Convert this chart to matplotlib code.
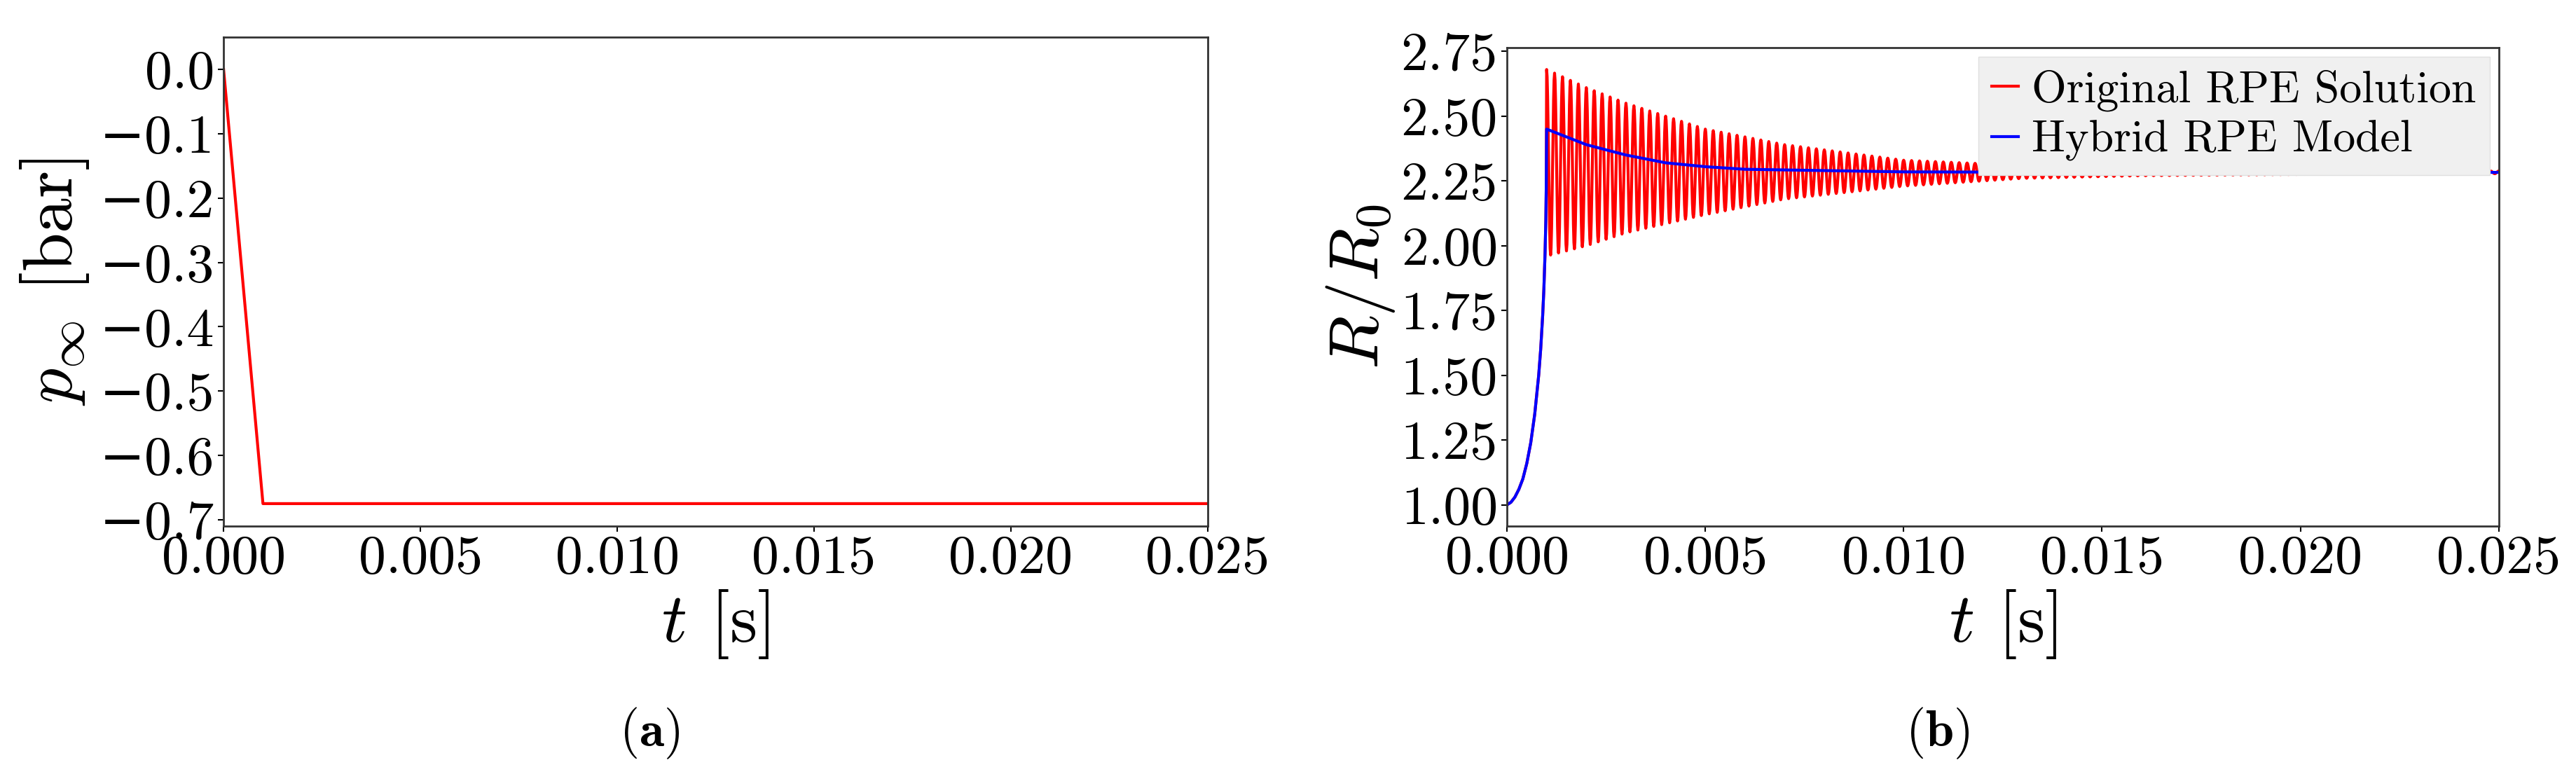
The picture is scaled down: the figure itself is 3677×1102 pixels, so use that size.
import numpy as np
import matplotlib
matplotlib.use("Agg")
import matplotlib.pyplot as plt

plt.rcParams['font.family'] = ['cmr10', 'DejaVu Serif']
plt.rcParams['mathtext.fontset'] = 'cm'
plt.rcParams['axes.formatter.use_mathtext'] = True

# panel (a): far-field pressure
t_p = [0.0, 0.001, 0.025]
p_inf = [0.0, -0.675, -0.675]

# panel (b): growth phase (both models)
t_rise = [0.0, 0.0001, 0.0002, 0.0003, 0.0004, 0.0005, 0.0006, 0.0007, 0.0008,
          0.00085, 0.0009, 0.00093, 0.00096, 0.00098, 0.00099, 0.001]
r_rise = [1.0, 1.01, 1.03, 1.06, 1.1, 1.16, 1.24, 1.35, 1.5,
          1.6, 1.73, 1.83, 1.97, 2.1, 2.22, 2.45]
# hybrid model decay after the step
t_hyb = [0.001, 0.0015, 0.002, 0.003, 0.004, 0.005, 0.006, 0.008, 0.010, 0.015, 0.025]
r_hyb = [2.45, 2.42, 2.39, 2.35, 2.32, 2.305, 2.295, 2.29, 2.285, 2.283, 2.283]
# original RPE: oscillation envelope
t_env = [0.001, 0.002, 0.003, 0.005, 0.007, 0.010, 0.013, 0.016, 0.020, 0.025]
r_peak = [2.68, 2.61, 2.55, 2.45, 2.39, 2.33, 2.31, 2.30, 2.29, 2.288]
r_trough = [1.96, 2.00, 2.05, 2.12, 2.18, 2.23, 2.26, 2.27, 2.275, 2.278]
period = 0.0002

fig = plt.figure(figsize=(36.77, 11.02), dpi=100)
ax1 = fig.add_axes([0.0868, 0.3185, 0.382, 0.633])
ax2 = fig.add_axes([0.585, 0.3185, 0.385, 0.620])

ax1.plot(t_p, p_inf, color='red', lw=3)
ax1.set_xlim(0, 0.025)
ax1.set_ylim(-0.71, 0.05)
ax1.set_xticks([0, 0.005, 0.010, 0.015, 0.020, 0.025])
ax1.set_xticklabels(['0.000', '0.005', '0.010', '0.015', '0.020', '0.025'])
ax1.set_yticks([0, -0.1, -0.2, -0.3, -0.4, -0.5, -0.6, -0.7])
ax1.set_yticklabels(['0.0', '−0.1', '−0.2', '−0.3', '−0.4', '−0.5', '−0.6', '−0.7'])
ax1.set_xlabel(r'$t$ [s]', fontsize=72)
ax1.set_ylabel(r'$p_\infty$ [bar]', fontsize=72, labelpad=4)
ax1.yaxis.set_label_coords(-0.135, 0.5)

# oscillating curve: alternating peaks/troughs joined by half-cosine arcs
t_ext = np.arange(0.001, 0.025 + 1e-9, period / 2)
hi = np.interp(t_ext, t_env, r_peak)
lo = np.interp(t_ext, t_env, r_trough)
r_ext = np.where(np.arange(len(t_ext)) % 2 == 0, hi, lo)
s = np.linspace(0, 1, 8, endpoint=False)
w = (1 - np.cos(np.pi * s)) / 2
t_fine = (t_ext[:-1, None] + s[None, :] * period / 2).ravel()
r_fine = (r_ext[:-1, None] * (1 - w) + r_ext[1:, None] * w).ravel()
t_orig = np.concatenate([t_rise[:-1], t_fine])
r_orig = np.concatenate([r_rise[:-1], r_fine])

ax2.plot(t_orig, r_orig, color='red', lw=3, label='Original RPE Solution')
ax2.plot(t_rise + t_hyb[1:], r_rise + r_hyb[1:], color='blue', lw=3, label='Hybrid RPE Model')
ax2.set_xlim(0, 0.025)
ax2.set_ylim(0.918, 2.765)
ax2.set_xticks([0, 0.005, 0.010, 0.015, 0.020, 0.025])
ax2.set_xticklabels(['0.000', '0.005', '0.010', '0.015', '0.020', '0.025'])
ax2.set_yticks([1.0, 1.25, 1.5, 1.75, 2.0, 2.25, 2.5, 2.75])
ax2.set_yticklabels(['1.00', '1.25', '1.50', '1.75', '2.00', '2.25', '2.50', '2.75'])
ax2.set_xlabel(r'$t$ [s]', fontsize=72)
ax2.set_ylabel(r'$R/R_0$', fontsize=72)
leg = ax2.legend(loc='upper right', fontsize=46, handlelength=0.6, handletextpad=0.3,
                 fancybox=False, framealpha=1, borderpad=0.3, labelspacing=0.2,
                 borderaxespad=0.2)
leg.get_frame().set_facecolor('#f0f0f0')
leg.get_frame().set_edgecolor('#e0e0e0')

for ax in (ax1, ax2):
    ax.tick_params(labelsize=56, length=6, width=1.5)
    for sp in ax.spines.values():
        sp.set_color('#333333')
        sp.set_linewidth(2)

fig.text(0.252, 0.05, r'($\mathbf{a}$)', fontsize=52, ha='center', va='center')
fig.text(0.752, 0.05, r'($\mathbf{b}$)', fontsize=52, ha='center', va='center')

fig.savefig('out.png', dpi=100)
